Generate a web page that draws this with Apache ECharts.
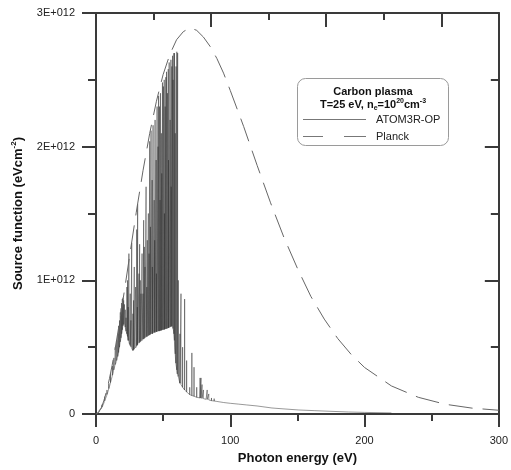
<!DOCTYPE html>
<html>
<head>
<meta charset="utf-8">
<script src="https://cdn.jsdelivr.net/npm/echarts@6/dist/echarts.min.js"></script>
<style>
html,body{margin:0;padding:0;background:#fff;}
#chart{width:511px;height:470px;}
</style>
</head>
<body>
<div id="chart"></div>
<script>
// Values of the source function are in units of 1E+012 eV cm^-2
var xTickLabels = ['0', '100', '200', '300'];
var yTickLabels = ['0', '1E+012', '2E+012', '3E+012'];

// Planck curve
var planckE = [0, 2, 4, 6, 8, 10, 12, 14, 16, 18, 20, 22, 25, 30, 35, 40, 45, 50, 55, 60, 65, 70, 75, 80, 85, 90, 95, 100, 110, 120, 130, 140, 150, 160, 170, 180, 190, 200, 220, 240, 260, 280, 300];
var planckS = [0, 0.013, 0.048, 0.103, 0.176, 0.264, 0.364, 0.474, 0.593, 0.717, 0.847, 0.979, 1.18, 1.51, 1.82, 2.10, 2.34, 2.54, 2.69, 2.80, 2.86, 2.89, 2.87, 2.82, 2.75, 2.66, 2.55, 2.42, 2.15, 1.86, 1.58, 1.32, 1.09, 0.88, 0.71, 0.565, 0.446, 0.348, 0.21, 0.125, 0.073, 0.044, 0.028];

// ATOM3R-OP continuum (lower envelope)
var contE = [0, 1, 2, 3, 4, 5, 6, 7, 8, 9, 10, 11, 12, 13, 14, 15, 16, 17, 18, 19, 20, 21, 22, 23, 24, 25, 26, 27.5, 29, 31, 33, 35, 38, 41, 44, 47, 50, 53, 55, 57, 57.8, 58.6, 59.4, 60.5, 62, 64, 66, 68, 70, 72, 75, 78, 82, 86, 90, 95, 100, 106, 112, 120, 131, 140, 151, 163, 175, 188, 200, 210, 220];
var contS = [0, 0.004, 0.012, 0.022, 0.04, 0.06, 0.085, 0.11, 0.14, 0.17, 0.205, 0.24, 0.28, 0.32, 0.36, 0.39, 0.43, 0.48, 0.54, 0.6, 0.66, 0.68, 0.64, 0.6, 0.55, 0.52, 0.5, 0.475, 0.49, 0.52, 0.54, 0.56, 0.58, 0.6, 0.61, 0.62, 0.63, 0.64, 0.65, 0.66, 0.62, 0.5, 0.38, 0.3, 0.25, 0.21, 0.18, 0.16, 0.145, 0.135, 0.125, 0.118, 0.11, 0.1, 0.094, 0.086, 0.08, 0.074, 0.068, 0.06, 0.045, 0.038, 0.03, 0.025, 0.02, 0.015, 0.012, 0.01, 0.008];

// ATOM3R-OP spectral lines: energy, base level, peak level
var lineE = [2.5, 4.5, 6.5, 8.2, 9.5, 10.8, 12.3, 13.3, 14.4, 15.4, 16.2, 16.8, 17.5, 18.1, 18.6, 19.1, 19.6, 20.1, 20.6, 21.2, 21.8, 22.4,
  23.0, 23.5, 24.0, 24.5, 25.5, 26.0, 26.6, 27.5, 28.0, 28.5, 29.5, 30.3, 30.8, 31.0, 32.0, 32.5, 33.0, 33.5, 34.3, 35.0, 35.5, 36.0, 36.5, 37.3, 37.8, 38.2, 39.0, 39.5, 40.0, 40.5, 41.0, 41.8, 42.0, 42.5, 43.3, 43.7, 44.0, 44.8, 45.0, 45.5, 46.2, 46.6, 47.3, 47.7, 48.0, 48.7, 49.0, 49.5, 50.2, 50.8, 51.0, 51.5, 52.0, 52.5, 53.2, 53.8, 54.0, 54.5, 55.2, 55.8, 56.0, 56.5, 57.0, 57.4, 58.0, 58.4, 59.0, 59.6, 60.2, 60.8, 61.3,
  62.5, 63.3, 64.5, 66.0, 67.5, 69.8, 71.4, 73.0, 75.0, 77.5, 78.2, 79.0, 80.0, 82.8, 84.0, 86.0, 88.0];
var lineBase = [0.017, 0.05, 0.098, 0.146, 0.19, 0.235, 0.29, 0.33, 0.37, 0.4, 0.43, 0.46, 0.5, 0.54, 0.57, 0.6, 0.63, 0.66, 0.67, 0.68, 0.65, 0.62,
  0.6, 0.58, 0.55, 0.54, 0.51, 0.5, 0.49, 0.475, 0.48, 0.485, 0.495, 0.51, 0.515, 0.52, 0.53, 0.535, 0.54, 0.545, 0.55, 0.56, 0.56, 0.565, 0.57, 0.575, 0.58, 0.58, 0.585, 0.59, 0.59, 0.595, 0.6, 0.6, 0.6, 0.605, 0.61, 0.61, 0.61, 0.615, 0.615, 0.615, 0.62, 0.62, 0.62, 0.622, 0.625, 0.625, 0.627, 0.63, 0.63, 0.632, 0.633, 0.635, 0.637, 0.638, 0.64, 0.643, 0.644, 0.646, 0.65, 0.653, 0.655, 0.657, 0.66, 0.64, 0.6, 0.55, 0.45, 0.37, 0.33, 0.3, 0.28,
  0.23, 0.22, 0.2, 0.18, 0.165, 0.145, 0.138, 0.133, 0.125, 0.12, 0.118, 0.116, 0.115, 0.108, 0.105, 0.1, 0.097];
var linePeak = [0.03, 0.07, 0.13, 0.18, 0.23, 0.3, 0.36, 0.42, 0.5, 0.55, 0.6, 0.66, 0.7, 0.76, 0.79, 0.83, 0.86, 0.87, 0.85, 0.82, 0.78, 0.72,
  0.95, 1.0, 0.8, 1.2, 0.9, 0.7, 1.28, 0.75, 0.85, 1.1, 0.95, 1.38, 0.8, 1.57, 1.05, 1.27, 1.0, 0.9, 1.2, 0.9, 1.45, 1.25, 1.1, 1.7, 0.95, 1.3, 1.5, 1.2, 2.04, 1.4, 2.12, 1.75, 1.1, 2.16, 1.6, 1.3, 2.2, 1.9, 1.05, 2.3, 2.0, 2.38, 2.3, 1.6, 2.4, 2.1, 1.8, 2.48, 2.45, 2.5, 1.5, 2.3, 2.52, 2.56, 2.4, 2.58, 1.9, 2.63, 2.2, 2.65, 1.7, 2.6, 2.68, 2.5, 2.7, 2.7, 2.1, 2.6, 2.71, 2.7, 1.0,
  0.6, 0.9, 0.5, 0.86, 0.4, 0.2, 0.457, 0.35, 0.2, 0.27, 0.27, 0.22, 0.18, 0.18, 0.15, 0.12, 0.115];

// Build the ATOM3R-OP polyline: continuum points plus vertical spikes
var groups = [];
contE.forEach(function (e, i) { groups.push({ e: e, pts: [[e, contS[i]]] }); });
lineE.forEach(function (e, i) {
  groups.push({ e: e, pts: [[e, lineBase[i]], [e, linePeak[i]], [e, lineBase[i]]] });
});
groups.sort(function (a, b) { return a.e - b.e; });
var atomData = [];
groups.forEach(function (g) { g.pts.forEach(function (p) { atomData.push(p); }); });

var planckData = planckE.map(function (e, i) { return [e, planckS[i]]; });

var FONT = '"Liberation Sans", Arial, sans-serif';
var AX = '#3a3a3a';

var chart = echarts.init(document.getElementById('chart'), null, { renderer: 'canvas' });
chart.setOption({
  animation: false,
  backgroundColor: '#ffffff',
  grid: { left: 96, right: 9, top: 13, bottom: 50, containLabel: false },
  xAxis: [
    {
      type: 'value', position: 'bottom', min: 0, max: 300, interval: 100,
      name: 'Photon energy (eV)', nameLocation: 'middle', nameGap: 38,
      nameTextStyle: { fontFamily: FONT, fontSize: 13, fontWeight: 'bold', color: '#111' },
      axisLine: { show: true, onZero: false, lineStyle: { color: AX, width: 2 } },
      axisTick: { show: true, inside: false, length: 13, lineStyle: { color: AX, width: 2 } },
      minorTick: { show: true, splitNumber: 2, length: 7, lineStyle: { color: AX, width: 2 } },
      axisLabel: { margin: 21, fontFamily: FONT, fontSize: 11, color: '#222',
        formatter: function (v) { return xTickLabels[Math.round(v / 100)]; } },
      splitLine: { show: false }
    },
    {
      type: 'value', position: 'top', min: 0, max: 7, interval: 1,
      axisLine: { show: true, onZero: false, lineStyle: { color: AX, width: 2 } },
      axisTick: { show: true, inside: true, length: 7, lineStyle: { color: AX, width: 2 } },
      axisLabel: { show: false }, splitLine: { show: false }
    },
    {
      type: 'value', position: 'top', min: 0, max: 7, interval: 2,
      axisLine: { show: false, onZero: false },
      axisTick: { show: true, inside: true, length: 14, lineStyle: { color: AX, width: 2 } },
      axisLabel: { show: false }, splitLine: { show: false }
    }
  ],
  yAxis: [
    {
      type: 'value', position: 'left', min: 0, max: 3, interval: 1,
      name: 'Source function (eVcm{sup|-2})', nameLocation: 'middle', nameGap: 70,
      nameTextStyle: { fontFamily: FONT, fontSize: 13, fontWeight: 'bold', color: '#111',
        rich: { sup: { fontFamily: FONT, fontSize: 8, fontWeight: 'bold', color: '#111', padding: [0, 0, 8, 0] } } },
      axisLine: { show: true, onZero: false, lineStyle: { color: AX, width: 2 } },
      axisTick: { show: true, inside: false, length: 14, lineStyle: { color: AX, width: 2 } },
      minorTick: { show: true, splitNumber: 2, length: 8, lineStyle: { color: AX, width: 2 } },
      axisLabel: { margin: 21, fontFamily: FONT, fontSize: 11, color: '#222',
        formatter: function (v) { return yTickLabels[Math.round(v)]; } },
      splitLine: { show: false }
    },
    {
      type: 'value', position: 'right', min: 0, max: 3, interval: 1,
      axisLine: { show: true, onZero: false, lineStyle: { color: AX, width: 2 } },
      axisTick: { show: true, inside: true, length: 14, lineStyle: { color: AX, width: 2 } },
      minorTick: { show: true, splitNumber: 2, length: 8, lineStyle: { color: AX, width: 2 } },
      axisLabel: { show: false }, splitLine: { show: false }
    }
  ],
  legend: {
    orient: 'vertical', left: 303, top: 114, itemWidth: 63, itemHeight: 10, itemGap: 6,
    padding: 0, selectedMode: false,
    textStyle: { fontFamily: FONT, fontSize: 11, color: '#222', padding: [0, 0, 0, 5] },
    data: [
      { name: 'ATOM3R-OP', icon: 'path://M0,0H63V1H0Z', itemStyle: { color: '#777' } },
      { name: 'Planck', icon: 'path://M0,0H20V1H0Z M41,0H63V1H41Z', itemStyle: { color: '#777' } }
    ]
  },
  graphic: [
    { type: 'rect', shape: { x: 297.5, y: 78.5, width: 151, height: 67, r: 8 },
      style: { fill: '#fff', stroke: '#9a9a9a', lineWidth: 1 }, z: 0, silent: true },
    { type: 'text', x: 373, y: 92, z: 10, silent: true,
      style: { text: 'Carbon plasma', fontFamily: FONT, fontSize: 11, fontWeight: 'bold', fill: '#111',
        align: 'center', verticalAlign: 'middle' } },
    { type: 'text', x: 373, y: 105, z: 10, silent: true,
      style: { text: '{b|T=25 eV, n}{sub|e}{b|=10}{sup|20}{b|cm}{sup|-3}', align: 'center', verticalAlign: 'middle',
        rich: {
          b: { fontFamily: FONT, fontSize: 11, fontWeight: 'bold', fill: '#111' },
          sub: { fontFamily: FONT, fontSize: 7, fontWeight: 'bold', fill: '#111', padding: [6, 0, 0, 0] },
          sup: { fontFamily: FONT, fontSize: 7, fontWeight: 'bold', fill: '#111', padding: [0, 0, 7, 0] }
        } } }
  ],
  series: [
    {
      name: 'ATOM3R-OP', type: 'line', xAxisIndex: 0, yAxisIndex: 0,
      data: atomData, showSymbol: false, symbol: 'none', smooth: false,
      lineStyle: { color: '#333', width: 0.5 }, itemStyle: { color: '#333' },
      z: 3
    },
    {
      name: 'Planck', type: 'line', xAxisIndex: 0, yAxisIndex: 0,
      data: planckData, showSymbol: false, symbol: 'none', smooth: false,
      lineStyle: { color: '#666', width: 1, type: [24, 10] }, itemStyle: { color: '#666' },
      z: 4
    }
  ]
});
</script>
</body>
</html>
